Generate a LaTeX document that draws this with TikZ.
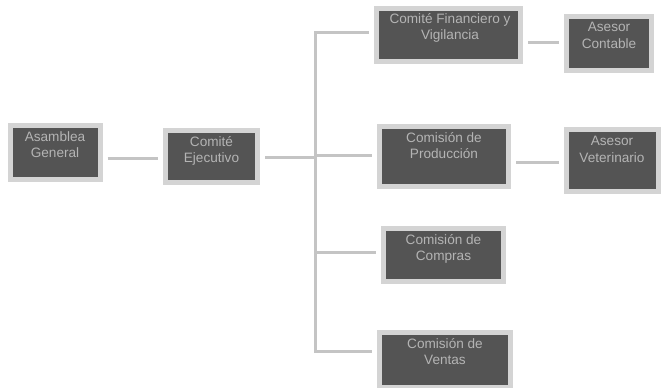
\documentclass[tikz,border=0pt]{standalone}
\usepackage{fontspec}
\setmainfont{Liberation Sans}
\definecolor{boxfill}{HTML}{545454}
\definecolor{boxedge}{HTML}{D4D4D4}
\definecolor{boxtext}{HTML}{B4B4B4}
\definecolor{linecol}{HTML}{C4C4C4}
\begin{document}
\begin{tikzpicture}[x=1pt,y=-1pt,
  orgbox/.style={draw=boxedge, fill=boxfill, line width=5pt, rectangle, inner sep=0pt},
  orgtext/.style={text=boxtext, align=center, font=\fontsize{13.6}{16.5}\selectfont, inner sep=0pt, anchor=north},
  conn/.style={draw=linecol, line width=3pt, shorten <=5pt, shorten >=5pt},
  bus/.style={draw=linecol, line width=3pt}]
\useasboundingbox (0,0) rectangle (662,388);
% boxes
\node[orgbox, minimum width=90pt, minimum height=54pt] (ag) at (55,152) {};
\node[orgbox, minimum width=92pt, minimum height=52pt] (ce) at (211.5,156.5) {};
\node[orgbox, minimum width=144pt, minimum height=53pt] (fin) at (448.5,35) {};
\node[orgbox, minimum width=85pt, minimum height=54pt] (ac) at (609,43.5) {};
\node[orgbox, minimum width=129pt, minimum height=60pt] (cp) at (444,156.5) {};
\node[orgbox, minimum width=92pt, minimum height=62pt] (av) at (612,160.5) {};
\node[orgbox, minimum width=120pt, minimum height=53pt] (cc) at (443.5,255) {};
\node[orgbox, minimum width=131pt, minimum height=55pt] (cv) at (445,360) {};
% texts
\node[orgtext] (tag) at (55,131) {Asamblea\\General};
\node[orgtext] (tce) at (211.5,136) {Comité\\Ejecutivo};
\node[orgtext] (tfin) at (450,13) {Comité Financiero y\\Vigilancia};
\node[orgtext] (tac) at (609,22) {Asesor\\Contable};
\node[orgtext] (tcp) at (444,132) {Comisión de\\Producción};
\node[orgtext] (tav) at (612,136) {Asesor\\Veterinario};
\node[orgtext] (tcc) at (443.5,234) {Comisión de\\Compras};
\node[orgtext] (tcv) at (445,338) {Comisión de\\Ventas};
% bus coordinates
\coordinate (j1) at (315,32);
\coordinate (j2) at (315,155);
\coordinate (j3) at (315,252);
\coordinate (j4) at (315,351);
\coordinate (jc) at (315,157);
\coordinate (y1) at (0,42);
\coordinate (y2) at (0,162);
% connectors
\draw[conn] (ag.east |- 0,158) -- (ce.west |- 0,158);
\draw[conn, shorten >=0pt] (ce.east |- jc) -- (jc);
\draw[bus, line cap=rect] (j1) -- (j4);
\draw[conn, shorten <=0pt] (j1) -- (j1 -| fin.west);
\draw[conn, shorten <=0pt] (j2) -- (j2 -| cp.west);
\draw[conn, shorten <=0pt] (j3) -- (j3 -| cc.west);
\draw[conn, shorten <=0pt] (j4) -- (j4 -| cv.west);
\draw[conn] (fin.east |- y1) -- (ac.west |- y1);
\draw[conn] (cp.east |- y2) -- (av.west |- y2);
\end{tikzpicture}
\end{document}
